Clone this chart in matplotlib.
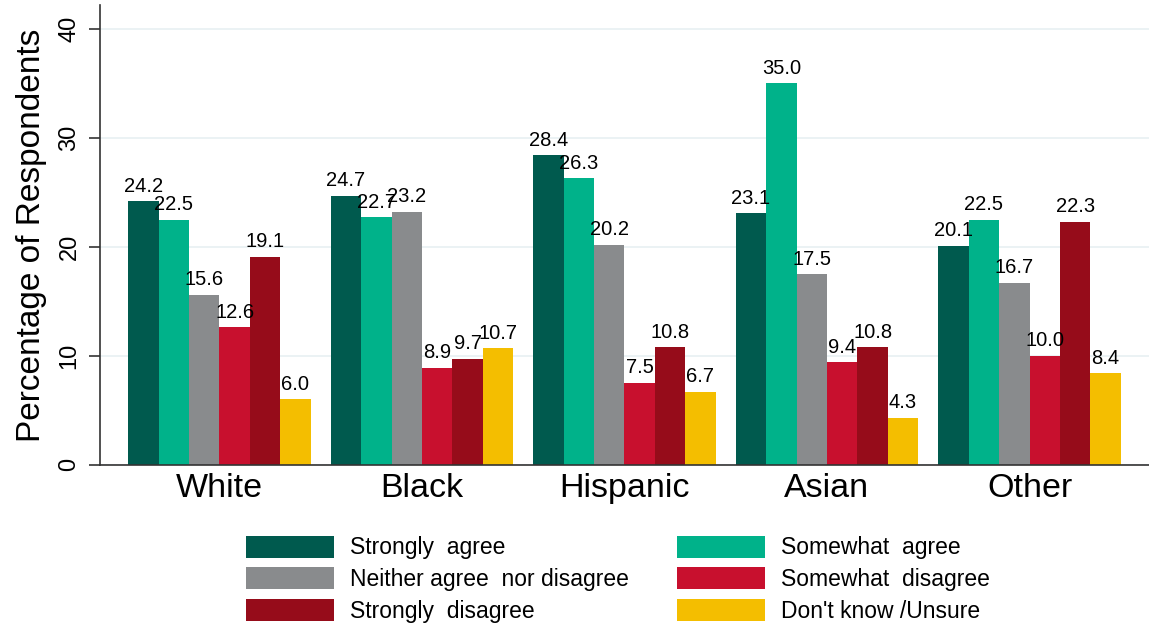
import numpy as np
import matplotlib.pyplot as plt

plt.rcParams['font.family'] = ['Liberation Sans', 'DejaVu Sans']

groups = ["White", "Black", "Hispanic", "Asian", "Other"]
labels = ["Strongly  agree", "Somewhat  agree", "Neither agree  nor disagree",
          "Somewhat  disagree", "Strongly  disagree", "Don't know /Unsure"]
colors = ["#005A4E", "#00B28A", "#898B8D", "#C8102E", "#960C1A", "#F4BE00"]

strongly_agree = [24.2, 24.7, 28.4, 23.1, 20.1]
somewhat_agree = [22.5, 22.7, 26.3, 35.0, 22.5]
neither = [15.6, 23.2, 20.2, 17.5, 16.7]
somewhat_disagree = [12.6, 8.9, 7.5, 9.4, 10.0]
strongly_disagree = [19.1, 9.7, 10.8, 10.8, 22.3]
dont_know = [6.0, 10.7, 6.7, 4.3, 8.4]
series = [strongly_agree, somewhat_agree, neither, somewhat_disagree,
          strongly_disagree, dont_know]

fig = plt.figure(figsize=(11.49, 6.28), dpi=100)
ax = fig.add_axes([0.087, 0.26, 0.913, 0.732])

x = np.arange(len(groups))
w = 0.15
bars = []
for i, vals in enumerate(series):
    b = ax.bar(x + (i - 2.5) * w, vals, w, color=colors[i], label=labels[i], zorder=2)
    ax.bar_label(b, fmt="%.1f", padding=4, fontsize=14.5)
    bars.append(b)

ax.set_xlim(-0.59, 4.59)
ax.set_ylim(0, 42.2)
ax.set_yticks([0, 10, 20, 30, 40])
ax.set_xticks(x)
ax.set_xticklabels(groups, fontsize=24.5)
ax.tick_params(axis='x', length=0, pad=6)
ax.tick_params(axis='y', labelsize=17, length=8, width=1.2, color="#333333", pad=6)
for t in ax.get_yticklabels():
    t.set_rotation(90)
    t.set_va("center")
ax.set_ylabel("Percentage of Respondents", fontsize=24, labelpad=8)
ax.grid(axis='y', color="#E8F0F2", linewidth=1.2, zorder=0)
ax.spines['top'].set_visible(False)
ax.spines['right'].set_visible(False)
ax.spines['left'].set_color("#333333")
ax.spines['bottom'].set_color("#333333")
ax.spines['left'].set_linewidth(1.2)
ax.spines['bottom'].set_linewidth(1.2)

order = [0, 2, 4, 1, 3, 5]
ax.legend([bars[i] for i in order], [labels[i] for i in order],
          loc='upper center', bbox_to_anchor=(0.538, 0.18),
          bbox_transform=fig.transFigure, ncol=2, frameon=False,
          fontsize=16.5, handlelength=3.85, handleheight=1.1,
          labelspacing=0.35, columnspacing=2.1, handletextpad=0.7)

fig.savefig("out.png", dpi=100)
